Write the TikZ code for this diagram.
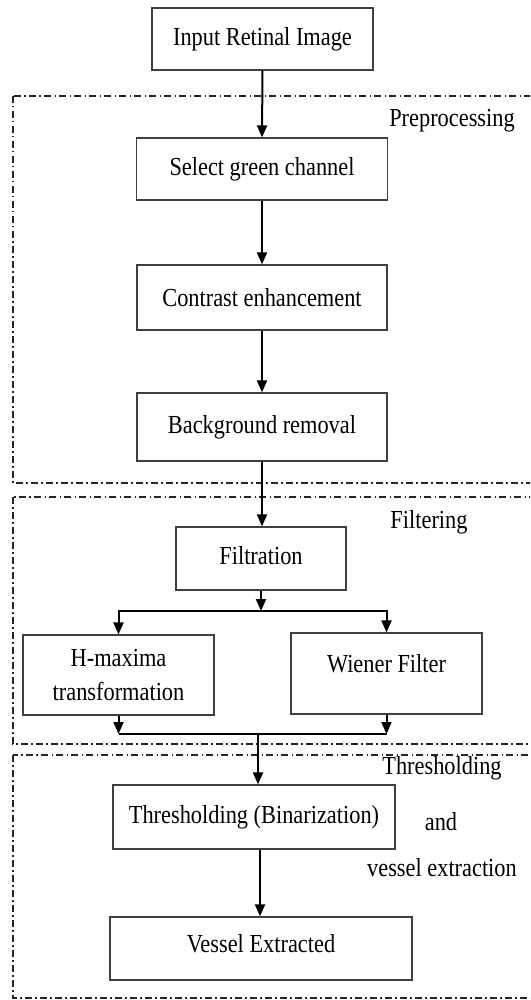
\documentclass[tikz,border=0pt]{standalone}
\usepackage{fontspec}
\setmainfont{Liberation Serif}[FakeStretch=0.86]
\usetikzlibrary{arrows.meta}
\tikzset{
  box/.style={draw=black!75, line width=1.2pt, rectangle, inner sep=0pt, align=center,
    font=\fontsize{26}{34}\selectfont},
  lbl/.style={font=\fontsize{26}{34}\selectfont, inner sep=0pt, align=center},
  arr/.style={line width=2pt, -{Triangle[length=12pt,width=10pt]}},
  ln/.style={line width=2pt},
  sect/.style={draw=black!85, line width=1.4pt, dash pattern=on 7pt off 3pt on 1.5pt off 3.5pt}
}
\begin{document}
\begin{tikzpicture}[x=1pt,y=-1pt]
\clip (0,0) rectangle (530,1000);
\fill[white] (0,0) rectangle (530,1000);
% sections
\draw[sect] (13,96) rectangle (545,483);
\draw[sect] (13,497) rectangle (545,744);
\draw[sect] (13,755) rectangle (545,998);
\node[lbl] (lpre) at (452,121) {Preprocessing};
\node[lbl] (lfil) at (429,522) {Filtering};
\node[lbl] (lthr) at (442,768) {Thresholding};
\node[lbl] (land) at (441,822) {and};
\node[lbl] (lves) at (442,868) {vessel extraction};
% boxes
\node[box, minimum width=221pt, minimum height=62pt] (in) at (262.5,39) {Input Retinal Image};
\node[box, minimum width=251pt, minimum height=62pt] (sel) at (262,169) {Select green channel};
\node[box, minimum width=250pt, minimum height=65pt] (con) at (262,297.5) {Contrast enhancement};
\node[box, minimum width=250pt, minimum height=68pt] (bg) at (262,427) {Background removal};
\node[box, minimum width=170pt, minimum height=63pt] (fil) at (261,558.5) {\raisebox{6pt}{Filtration}};
\node[box, minimum width=191pt, minimum height=80pt] (hm) at (118.5,675) {H-maxima\\transformation};
\node[box, minimum width=191pt, minimum height=81pt] (wf) at (386.5,673.5) {\raisebox{20pt}{Wiener Filter}};
\node[box, minimum width=282pt, minimum height=64pt] (thr) at (254,817) {Thresholding (Binarization)};
\node[box, minimum width=302pt, minimum height=63pt] (ves) at (261,948.5) {\raisebox{10pt}{Vessel Extracted}};
% connectors
\coordinate (sp) at (261,611);
\coordinate (mg) at (258,734);
\coordinate (vx) at (260,0);
\draw[arr] (in.south) -- (sel.north);
\draw[arr] (sel.south) -- (con.north);
\draw[arr] (con.south) -- (bg.north);
\draw[arr] (bg.south) -- (bg.south |- fil.north);
\draw[arr] (fil.south) -- (sp);
\draw[arr] (sp) -| (hm.north);
\draw[arr] (sp) -| (wf.north);
\draw[arr] (hm.south) -- (hm.south |- mg);
\draw[arr] (wf.south) -- (wf.south |- mg);
\draw[ln] (hm.south |- mg) -- (wf.south |- mg);
\draw[arr] (mg) -- (mg |- thr.north);
\draw[arr] (vx |- thr.south) -- (vx |- ves.north);
\end{tikzpicture}
\end{document}
